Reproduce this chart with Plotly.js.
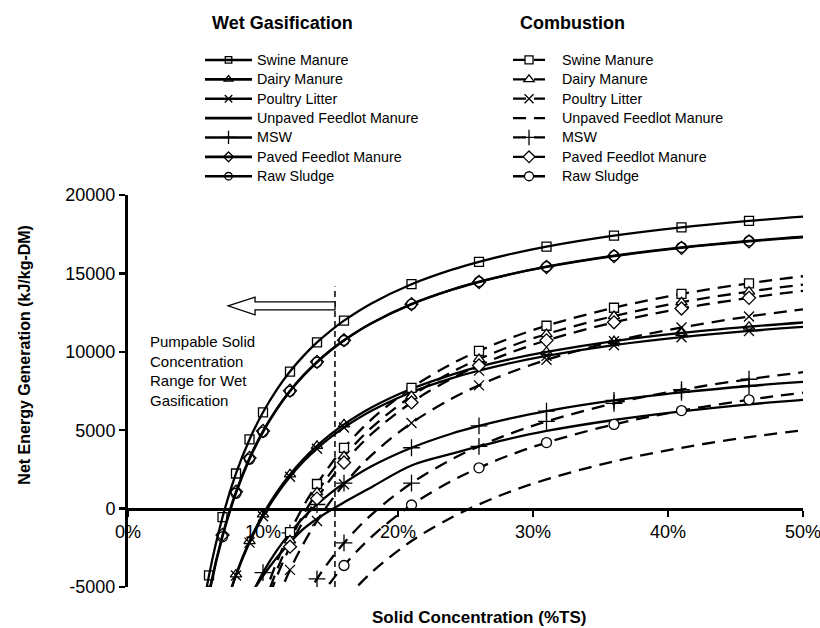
<!DOCTYPE html>
<html><head><meta charset="utf-8">
<script src="https://cdn.plot.ly/plotly-3.0.1.min.js"></script>
<style>html,body{margin:0;padding:0;background:#fff}#chart{width:820px;height:628px}</style>
</head><body><div id="chart"></div>
<script>
// ---------- data ----------
const X_GRID = [0.05,0.06,0.07,0.08,0.09,0.10,0.11,0.12,0.13,0.14,0.15,0.16,0.18,0.21,0.24,0.26,0.28,0.31,0.36,0.41,0.46,0.50];
const X_MARKERS = [0.06,0.07,0.08,0.09,0.10,0.12,0.14,0.16,0.21,0.26,0.31,0.36,0.41,0.46];
const FEEDSTOCKS = ["Swine Manure","Dairy Manure","Poultry Litter","Unpaved Feedlot Manure","MSW","Paved Feedlot Manure","Raw Sludge"];

// Wet gasification (kJ/kg-DM)
const wetSwine   = [-9460,-4260,-550,2240,4410,6140,7560,8740,9740,10600,11340,11990,13070,14310,15240,15740,16170,16710,17410,17940,18350,18620];
const wetDairy   = [null,null,-6930,-4200,-2070,-370,1020,2180,3160,4000,4730,5370,6430,7640,8550,9050,9470,9990,10680,11200,11600,11870];
const wetPoultry = [null,null,-6960,-4270,-2170,-490,880,2030,3000,3820,4540,5170,6220,7420,8320,8800,9220,9740,10420,10930,11330,11590];
const wetUnpaved = [null,null,null,null,-5600,-4300,-3150,-2170,-1300,-650,-100,400,1350,2750,3500,3970,4400,4950,5650,6200,6650,6940];
const wetMSW     = [null,null,null,null,-5770,-4080,-2700,-1550,-570,260,990,1620,2680,3880,4790,5270,5690,6220,6900,7410,7820,8080];
const wetPaved   = [-10500,-5360,-1680,1080,3230,4950,6350,7520,8510,9360,10100,10740,11810,13040,13960,14450,14880,15410,16100,16630,17040,17300];
const wetSludge  = [-10700,-5510,-1800,980,3150,4880,6290,7480,8470,9330,10070,10720,11800,13040,13970,14470,14890,15430,16130,16660,17070,17340];

// Combustion (kJ/kg-DM)
const combSwine   = [null,null,null,null,null,-5790,-3450,-1500,160,1570,2800,3870,5660,7700,9240,10060,10770,11660,12810,13690,14370,14820];
const combDairy   = [null,null,null,null,null,-6320,-3980,-2030,-370,1040,2270,3340,5130,7170,8710,9530,10240,11130,12280,13160,13840,14290];
const combPoultry = [null,null,null,null,null,null,-5900,-3910,-2230,-790,460,1550,3380,5460,7020,7860,8580,9490,10670,11550,12250,12710];
const combUnpaved = [null,null,null,null,null,null,null,null,null,null,null,-5880,-4100,-2070,-550,270,980,1860,3010,3880,4560,5000];
const combMSW     = [null,null,null,null,null,null,null,null,-5880,-4480,-3260,-2190,-410,1620,3150,3970,4680,5560,6710,7580,8250,8700];
const combPaved   = [null,null,null,null,null,-6720,-4380,-2430,-770,640,1870,2940,4730,6770,8310,9130,9840,10730,11880,12760,13440,13890];
const combSludge  = [null,null,null,null,null,null,null,null,null,-5940,-4710,-3630,-1830,230,1770,2600,3320,4210,5370,6250,6940,7390];

const X_TICKS = [0,0.1,0.2,0.3,0.4,0.5];
const X_TICK_LABELS = ["0%","10%","20%","30%","40%","50%"];
const Y_TICKS = [-5000,0,5000,10000,15000,20000];
const Y_TICK_LABELS = ["-5000","0","5000","10000","15000","20000"];
const PUMPABLE_LIMIT = 0.1533;

// ---------- styles ----------
const FONT = "Liberation Sans, Arial, Helvetica, sans-serif";
const BLACK = "#000";
const wetSeries = [wetSwine, wetDairy, wetPoultry, wetUnpaved, wetMSW, wetPaved, wetSludge];
const combSeries = [combSwine, combDairy, combPoultry, combUnpaved, combMSW, combPaved, combSludge];
const SYM_WET  = ["square-open","triangle-up-open","x-thin-open",null,"cross-thin-open","diamond-open","circle-open"];
const SYM_COMB = ["square","triangle-up","x-thin-open",null,"cross-thin-open","diamond","circle"];
const SYM_SIZE = [9,10,10,0,12,10,10];
const DASH = "13px,8px";

function markerStyle(sym, i, shrink){
  const open = sym.indexOf("-open") >= 0;
  return {symbol: sym, size: SYM_SIZE[i] - (shrink || 0), color: open ? BLACK : "#fff", line: {color: BLACK, width: 1.3}};
}

const lineTraces = [], markerTraces = [], legendTraces = [];
function addGroup(series, symbols, dash, legendId, prefix, legendShrink, legendLineWidth){
  series.forEach((ys, i) => {
    lineTraces.push({x: X_GRID, y: ys, type: "scatter", mode: "lines", showlegend: false, hoverinfo: "skip",
      line: {color: BLACK, width: 2.3, shape: "spline", smoothing: 1, dash: dash}});
    const lt = {x: [null], y: [null], type: "scatter", mode: "lines",
      legend: legendId, name: '<span style="font-size:14.3px">' + prefix + FEEDSTOCKS[i] + '</span>',
      line: {color: BLACK, width: legendLineWidth, dash: dash}};
    if (symbols[i]) {
      const mx = X_MARKERS.filter(x => ys[X_GRID.indexOf(x)] !== null);
      const my = mx.map(x => ys[X_GRID.indexOf(x)]);
      markerTraces.push({x: mx, y: my, type: "scatter", mode: "markers", showlegend: false, hoverinfo: "skip",
        marker: markerStyle(symbols[i], i)});
      lt.mode = "lines+markers";
      lt.marker = markerStyle(symbols[i], i, legendShrink);
    }
    legendTraces.push(lt);
  });
}
addGroup(wetSeries, SYM_WET, "solid", "legend", "", 2.5, 2.6);
addGroup(combSeries, SYM_COMB, DASH, "legend2", "\u00a0\u00a0\u00a0", 1, 2.3);

const data = lineTraces.concat(markerTraces, legendTraces);

const axisCommon = {showline: true, linewidth: 3, linecolor: BLACK, ticks: "outside", ticklen: 6, tickwidth: 2.5,
  tickcolor: BLACK, showgrid: false, zeroline: false, tickfont: {family: FONT, size: 18, color: BLACK},
  ticklabeloverflow: "allow", fixedrange: true};

const layout = {
  width: 820, height: 628,
  margin: {l: 128, r: 17, t: 195, b: 41, autoexpand: false},
  paper_bgcolor: "#fff", plot_bgcolor: "#fff",
  font: {family: FONT, color: BLACK},
  xaxis: Object.assign({}, axisCommon, {range: [0, 0.5], anchor: "free", position: 0.2,
    tickmode: "array", tickvals: X_TICKS, ticktext: X_TICK_LABELS}),
  yaxis: Object.assign({}, axisCommon, {range: [-5000, 20000], tickmode: "array", tickvals: Y_TICKS, ticktext: Y_TICK_LABELS}),
  legend: {x: 0.1067, xanchor: "left", y: 1.382, yanchor: "top", font: {family: FONT, size: 12.6, color: BLACK},
    itemwidth: 47, bgcolor: "rgba(0,0,0,0)", borderwidth: 0, tracegroupgap: 0},
  legend2: {x: 0.563, xanchor: "left", y: 1.382, yanchor: "top", font: {family: FONT, size: 12.6, color: BLACK},
    itemwidth: 32, bgcolor: "rgba(0,0,0,0)", borderwidth: 0, tracegroupgap: 0},
  annotations: [
    {text: "<b>Wet Gasification</b>", xref: "paper", yref: "paper", x: 0.2296, y: 1.4395, xanchor: "center", yanchor: "middle",
      showarrow: false, font: {family: FONT, size: 18, color: BLACK}},
    {text: "<b>Combustion</b>", xref: "paper", yref: "paper", x: 0.6585, y: 1.4395, xanchor: "center", yanchor: "middle",
      showarrow: false, font: {family: FONT, size: 18, color: BLACK}},
    {text: "Pumpable Solid<br>Concentration<br>Range for Wet<br>Gasification", xref: "paper", yref: "paper",
      x: 0.0296, y: 0.551, xanchor: "left", yanchor: "middle", align: "left", showarrow: false,
      font: {family: FONT, size: 15, color: BLACK}},
    {text: "<b>Net Energy Generation (kJ/kg-DM)</b>", xref: "paper", yref: "paper", x: -0.153, y: 0.592,
      xanchor: "center", yanchor: "middle", textangle: -90, showarrow: false, font: {family: FONT, size: 16, color: BLACK}},
    {text: "<b>Solid Concentration (%TS)</b>", xref: "paper", yref: "paper", x: 0.52, y: -0.079,
      xanchor: "center", yanchor: "middle", showarrow: false, font: {family: FONT, size: 17, color: BLACK}}
  ],
  shapes: [
    {type: "line", xref: "x", yref: "y", x0: PUMPABLE_LIMIT, x1: PUMPABLE_LIMIT, y0: -5000, y1: 14160,
      line: {color: BLACK, width: 1.5, dash: "6px,4px"}},
    {type: "path", xref: "x", yref: "y", fillcolor: "#fff", line: {color: BLACK, width: 1.3},
      path: "M0.0741,12930 L0.0941,13484 L0.0941,13185 L" + PUMPABLE_LIMIT + ",13185 L" + PUMPABLE_LIMIT +
            ",12675 L0.0941,12675 L0.0941,12357 Z"}
  ]
};

Plotly.newPlot("chart", data, layout, {displayModeBar: false, staticPlot: true});
</script>
</body></html>
